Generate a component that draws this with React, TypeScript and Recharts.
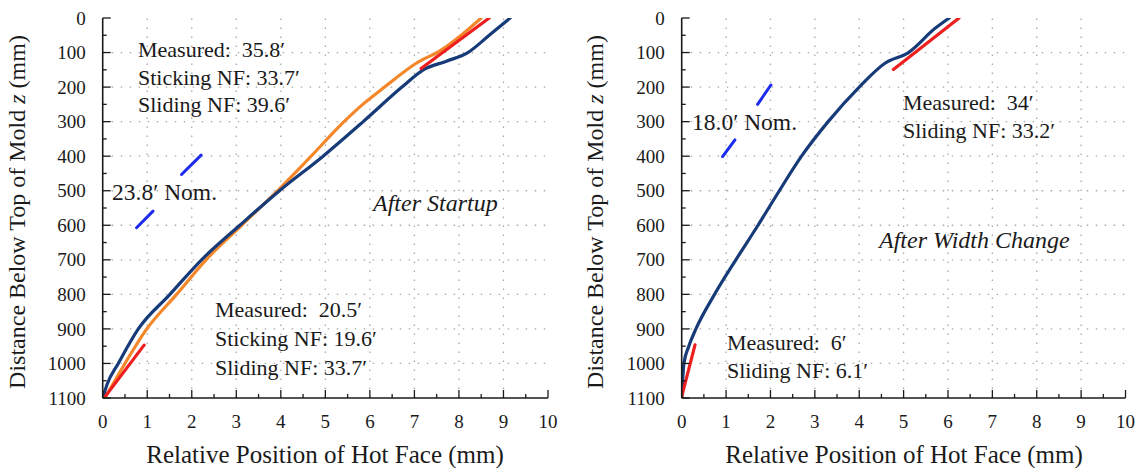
import React from 'react';
import { LineChart, Line, XAxis, YAxis, ReferenceLine } from 'recharts';

const FONT = '"Liberation Serif", "Times New Roman", serif';
const INK = '#1a1a1a';
const NAVY = '#173b78';
const ORANGE = '#f5872b';
const RED = '#ee1f1f';
const NOM = '#1b2cf0';

// axis ticks (major at integers / hundreds, minor halfway)
const xTicks = [0, 0.5, 1, 1.5, 2, 2.5, 3, 3.5, 4, 4.5, 5, 5.5, 6, 6.5, 7, 7.5, 8, 8.5, 9, 9.5, 10];
const zTicks = [0, 50, 100, 150, 200, 250, 300, 350, 400, 450, 500, 550, 600, 650, 700, 750, 800, 850, 900, 950, 1000, 1050, 1100];
const xGrid = [1, 2, 3, 4, 5, 6, 7, 8, 9];
const zGrid = [100, 200, 300, 400, 500, 600, 700, 800, 900, 1000];

// After startup
const startupNavyZ = [0, 50, 100, 125, 150, 200, 300, 400, 500, 600, 700, 800, 900, 1000, 1060, 1100];
const startupNavyX = [9.15, 8.68, 8.2, 7.72, 7.2, 6.72, 5.85, 4.95, 3.97, 3.08, 2.22, 1.51, 0.8, 0.35, 0.1, 0];
const startupOrangeZ = [0, 50, 93, 131, 200, 250, 300, 400, 450, 500, 600, 700, 800, 900, 1000, 1100];
const startupOrangeX = [8.5, 8.05, 7.6, 7.04, 6.33, 5.84, 5.42, 4.68, 4.31, 3.93, 3.12, 2.32, 1.66, 0.99, 0.5, 0.05];
const startupRedTopZ = [146, 0];
const startupRedTopX = [7.15, 8.68];
const startupRedBotZ = [947, 1100];
const startupRedBotX = [0.93, 0.03];
const startupNomAZ = [607, 559];
const startupNomAX = [0.76, 1.13];
const startupNomBZ = [453, 397];
const startupNomBX = [1.77, 2.21];

// After width change
const widthNavyZ = [0, 30, 100, 131, 200, 300, 400, 500, 600, 700, 800, 900, 950, 1000, 1100];
const widthNavyX = [6.03, 5.71, 5.11, 4.58, 4.0, 3.3, 2.7, 2.2, 1.72, 1.22, 0.74, 0.32, 0.16, 0.05, 0];
const widthRedTopZ = [149, 0];
const widthRedTopX = [4.77, 6.25];
const widthRedBotZ = [946, 1096];
const widthRedBotX = [0.3, 0.0];
const widthNomAZ = [401, 353];
const widthNomAX = [0.92, 1.2];
const widthNomBZ = [250, 194];
const widthNomBX = [1.71, 2.01];

const pts = (xs: number[], zs: number[]) => xs.map((x, i) => ({ x, z: zs[i] }));

const TM = 14;

const BottomTick = (props: any) => {
  const { x, y, payload } = props;
  const v = payload.value;
  const major = v % 1 === 0;
  const axisY = y - TM;
  return (
    <g>
      <line x1={x} x2={x} y1={axisY} y2={axisY - (major ? 8 : 4)} stroke={INK} strokeWidth={1.3} />
      {major && (
        <text x={x} y={axisY + 30} textAnchor="middle" fontFamily={FONT} fontSize={19} fill={INK}>
          {v}
        </text>
      )}
    </g>
  );
};

const LeftTick = (props: any) => {
  const { x, y, payload } = props;
  const v = payload.value;
  const major = v % 100 === 0;
  const axisX = x + TM;
  return (
    <g>
      <line x1={axisX} x2={axisX + (major ? 8 : 4)} y1={y} y2={y} stroke={INK} strokeWidth={1.3} />
      {major && (
        <text x={axisX - 17} y={y} dy="0.35em" textAnchor="end" fontFamily={FONT} fontSize={19} fill={INK}>
          {v}
        </text>
      )}
    </g>
  );
};

const TopTick = (props: any) => {
  const { x, y, payload } = props;
  const major = payload.value % 1 === 0;
  return <line x1={x} x2={x} y1={y} y2={y + (major ? 8 : 4)} stroke={INK} strokeWidth={1.3} />;
};

const RightTick = (props: any) => {
  const { x, y, payload } = props;
  const major = payload.value % 100 === 0;
  return <line x1={x} x2={x - (major ? 8 : 4)} y1={y} y2={y} stroke={INK} strokeWidth={1.3} />;
};

type Series = { data: { x: number; z: number }[]; color: string; width: number };

const Panel = ({ width, axisWidth, right, series }: { width: number; axisWidth: number; right: number; series: Series[] }) => (
  <LineChart width={width} height={468} margin={{ top: 18, right, bottom: 0, left: 0 }}>
    {xGrid.map((v) => (
      <ReferenceLine key={'gx' + v} x={v} stroke="#a8a8a8" strokeWidth={1.3} strokeDasharray="1.5 7.5" />
    ))}
    {zGrid.map((v) => (
      <ReferenceLine key={'gz' + v} y={v} stroke="#a8a8a8" strokeWidth={1.3} strokeDasharray="1.5 7.5" />
    ))}
    <XAxis
      type="number"
      dataKey="x"
      domain={[0, 10]}
      ticks={xTicks}
      interval={0}
      height={70}
      tickSize={0}
      tickMargin={TM}
      tick={<BottomTick />}
      axisLine={{ stroke: INK, strokeWidth: 1.6 }}
      allowDataOverflow
    />
    <XAxis
      xAxisId="top"
      orientation="top"
      type="number"
      dataKey="x"
      domain={[0, 10]}
      ticks={xTicks}
      interval={0}
      height={0}
      tickSize={0}
      tickMargin={0}
      tick={<TopTick />}
      axisLine={{ stroke: INK, strokeWidth: 1.6 }}
      allowDataOverflow
    />
    <YAxis
      type="number"
      dataKey="z"
      domain={[0, 1100]}
      reversed
      ticks={zTicks}
      interval={0}
      width={axisWidth}
      tickSize={0}
      tickMargin={TM}
      tick={<LeftTick />}
      axisLine={{ stroke: INK, strokeWidth: 1.6 }}
      allowDataOverflow
    />
    <YAxis
      yAxisId="right"
      orientation="right"
      type="number"
      dataKey="z"
      domain={[0, 1100]}
      reversed
      ticks={zTicks}
      interval={0}
      width={0}
      tickSize={0}
      tickMargin={0}
      tick={<RightTick />}
      axisLine={{ stroke: INK, strokeWidth: 1.6 }}
      allowDataOverflow
    />
    {series.map((s, i) => (
      <Line
        key={i}
        data={s.data}
        dataKey="z"
        type="monotone"
        stroke={s.color}
        strokeWidth={s.width}
        dot={false}
        activeDot={false}
        isAnimationActive={false}
        strokeLinecap="round"
      />
    ))}
  </LineChart>
);

const startupSeries: Series[] = [
  { data: pts(startupOrangeX, startupOrangeZ), color: ORANGE, width: 3.2 },
  { data: pts(startupNavyX, startupNavyZ), color: NAVY, width: 3.2 },
  { data: pts(startupRedTopX, startupRedTopZ), color: RED, width: 3.2 },
  { data: pts(startupRedBotX, startupRedBotZ), color: RED, width: 3.2 },
  { data: pts(startupNomAX, startupNomAZ), color: NOM, width: 3 },
  { data: pts(startupNomBX, startupNomBZ), color: NOM, width: 3 },
];

const widthSeries: Series[] = [
  { data: pts(widthNavyX, widthNavyZ), color: NAVY, width: 3.2 },
  { data: pts(widthRedTopX, widthRedTopZ), color: RED, width: 3.2 },
  { data: pts(widthRedBotX, widthRedBotZ), color: RED, width: 3.2 },
  { data: pts(widthNomAX, widthNomAZ), color: NOM, width: 3 },
  { data: pts(widthNomBX, widthNomBZ), color: NOM, width: 3 },
];

const T = ({ x, y, size = 22, italic = false, children }: any) => (
  <text x={x} y={y} fontFamily={FONT} fontSize={size} fontStyle={italic ? 'italic' : 'normal'} fill={INK} style={{ whiteSpace: 'pre' }}>
    {children}
  </text>
);

const YTitle = ({ x }: { x: number }) => (
  <text transform={`translate(${x},212) rotate(-90)`} textAnchor="middle" fontFamily={FONT} fontSize={24} fill={INK}>
    Distance Below Top of Mold <tspan fontStyle="italic">z</tspan> (mm)
  </text>
);

export default function App() {
  return (
    <div style={{ position: 'absolute', left: 0, top: 0, width: 1138, height: 468, background: '#fff', overflow: 'hidden' }}>
      <div style={{ position: 'absolute', left: 0, top: 0 }}>
        <Panel width={570} axisWidth={102.7} right={22} series={startupSeries} />
      </div>
      <div style={{ position: 'absolute', left: 570, top: 0 }}>
        <Panel width={568} axisWidth={111.7} right={12.5} series={widthSeries} />
      </div>
      <svg width={1138} height={468} style={{ position: 'absolute', left: 0, top: 0, pointerEvents: 'none' }}>
        <T x={138} y={57}>{'Measured:  35.8\u2032'}</T>
        <T x={138} y={85}>{'Sticking NF: 33.7\u2032'}</T>
        <T x={138} y={112}>{'Sliding NF: 39.6\u2032'}</T>
        <T x={112} y={200} size={23.5}>{'23.8\u2032 Nom.'}</T>
        <T x={373} y={211} size={24} italic>After Startup</T>
        <T x={215} y={317}>{'Measured:  20.5\u2032'}</T>
        <T x={215} y={346}>{'Sticking NF: 19.6\u2032'}</T>
        <T x={215} y={375}>{'Sliding NF: 33.7\u2032'}</T>

        <T x={692} y={130} size={23.5}>{'18.0\u2032 Nom.'}</T>
        <T x={903} y={110}>{'Measured:  34\u2032'}</T>
        <T x={903} y={138}>{'Sliding NF: 33.2\u2032'}</T>
        <T x={879} y={248} size={24} italic>After Width Change</T>
        <T x={727} y={350}>{'Measured:  6\u2032'}</T>
        <T x={727} y={378}>{'Sliding NF: 6.1\u2032'}</T>

        <text x={325} y={463} textAnchor="middle" fontFamily={FONT} fontSize={25} fill={INK}>
          Relative Position of Hot Face (mm)
        </text>
        <text x={904} y={463} textAnchor="middle" fontFamily={FONT} fontSize={25} fill={INK}>
          Relative Position of Hot Face (mm)
        </text>
        <YTitle x={25} />
        <YTitle x={603} />
      </svg>
    </div>
  );
}
